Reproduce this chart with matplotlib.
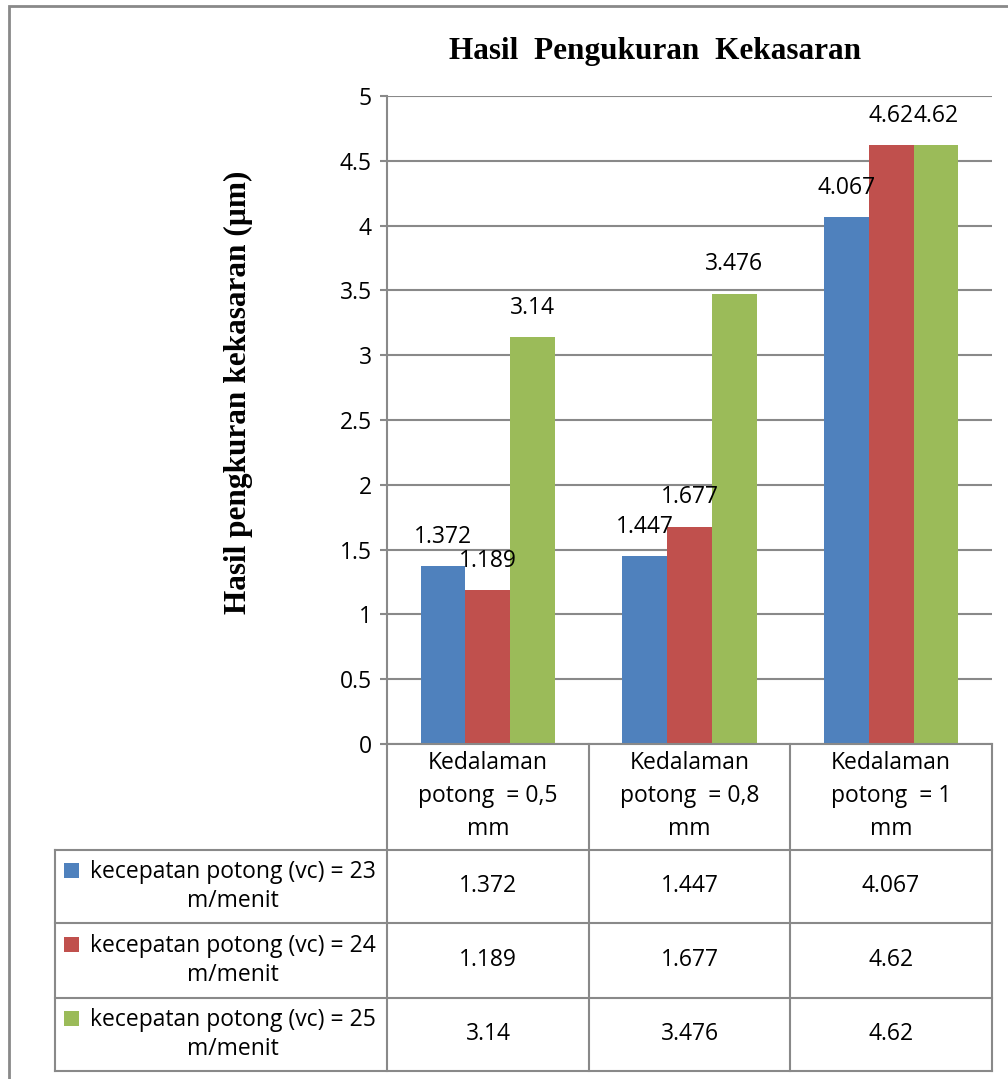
import numpy as np
import matplotlib.pyplot as plt
from matplotlib.patches import Rectangle
from matplotlib.lines import Line2D

# data
categories = ["Kedalaman\npotong  = 0,5\nmm", "Kedalaman\npotong  = 0,8\nmm", "Kedalaman\npotong  = 1\nmm"]
series_names = ["kecepatan potong (vc) = 23\nm/menit",
                "kecepatan potong (vc) = 24\nm/menit",
                "kecepatan potong (vc) = 25\nm/menit"]
vc23 = [1.372, 1.447, 4.067]
vc24 = [1.189, 1.677, 4.62]
vc25 = [3.14, 3.476, 4.62]
colors = ["#4F81BD", "#C0504D", "#9BBB59"]
yticks = [0, 0.5, 1, 1.5, 2, 2.5, 3, 3.5, 4, 4.5, 5]

W, H = 1008, 1079
fig = plt.figure(figsize=(W / 100, H / 100), dpi=100)

def fx(x):
    return x / W

def fy(y):
    return 1 - y / H

gridc = "#898989"
sans = "Open Sans"
fs = 16.5

# plot area in pixels
L, R, T, B = 387, 992, 96, 744
ax = fig.add_axes([fx(L), fy(B), fx(R - L), (B - T) / H])

series = [vc23, vc24, vc25]
x = np.arange(len(categories))
bw = 0.222
for i, vals in enumerate(series):
    pos = x + (i - 1) * bw
    ax.bar(pos, vals, width=bw, color=colors[i], zorder=3)
    for p, v in zip(pos, vals):
        ax.annotate(f"{v:g}", (p, v), xytext=(0, 12.5), textcoords="offset points",
                    ha="center", va="bottom", fontsize=fs, family=sans, zorder=4)

ax.set_xlim(-0.5, 2.5)
ax.set_ylim(0, 5)
ax.set_yticks(yticks)
ax.set_yticklabels([f"{t:g}" for t in yticks], fontsize=fs, family=sans)
ax.set_xticks([])
ax.yaxis.grid(True, color=gridc, lw=1.5, zorder=0)
for s in ["top", "right", "bottom"]:
    ax.spines[s].set_visible(False)
ax.spines["left"].set_color(gridc)
ax.spines["left"].set_linewidth(1.5)
ax.tick_params(axis="y", length=5, width=1.5, color=gridc, pad=6)

# title and y label
fig.text(fx(655), fy(52), "Hasil  Pengukuran  Kekasaran", ha="center", va="center",
         fontsize=22.5, fontweight="bold", family="Liberation Serif")
fig.text(fx(238), fy(392), "Hasil pengkuran kekasaran (µm)", ha="center", va="center",
         rotation=90, fontsize=22.5, fontweight="bold", family="Liberation Serif")

# data table under the chart
def hline(x0, x1, y):
    fig.add_artist(Line2D([fx(x0), fx(x1)], [fy(y), fy(y)], color=gridc, lw=1.5))

def vline(xp, y0, y1):
    fig.add_artist(Line2D([fx(xp), fx(xp)], [fy(y0), fy(y1)], color=gridc, lw=1.5))

cols = [387, 589, 790, 992]
rows = [744, 850, 923, 998, 1071]
tab_left = 55
hline(L, R, rows[0])
for r in rows[1:]:
    hline(tab_left, R, r)
for c in cols:
    vline(c, rows[0], rows[-1])
vline(tab_left, rows[1], rows[-1])

for j, cat in enumerate(categories):
    cx = (cols[j] + cols[j + 1]) / 2
    fig.text(fx(cx), fy((rows[0] + rows[1]) / 2 - 1), cat, ha="center", va="center",
             fontsize=fs, family=sans, linespacing=1.5)

for i, vals in enumerate(series):
    cy = (rows[i + 1] + rows[i + 2]) / 2
    fig.add_artist(Rectangle((fx(64), fy(cy - 24 + 15)), 15 / W, 15 / H,
                             color=colors[i], lw=0))
    fig.text(fx(233), fy(cy), series_names[i], ha="center", va="center",
             fontsize=fs, family=sans, linespacing=1.25, multialignment="center")
    for j, v in enumerate(vals):
        cx = (cols[j] + cols[j + 1]) / 2
        fig.text(fx(cx), fy(cy), f"{v:g}", ha="center", va="center",
                 fontsize=fs, family=sans)

# chart frame (runs off the right and bottom edge)
fig.add_artist(Rectangle((fx(9), fy(1100)), (1040 - 9) / W, (1100 - 6) / H,
                         fill=False, edgecolor=gridc, lw=2, clip_on=False))

fig.savefig("out.png", dpi=100)
